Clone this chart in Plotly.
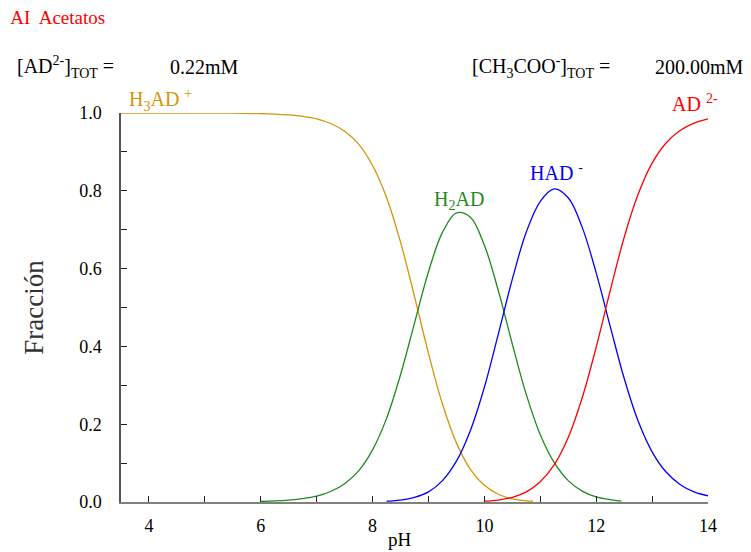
import plotly.graph_objects as go

# pH grid and species fractions
ph_h3 = [3.5, 4, 4.5, 5, 5.5, 6, 6.25, 6.5, 6.75, 7, 7.25, 7.5, 7.75, 8, 8.25, 8.5, 8.75, 9, 9.25,
         9.5, 9.75, 10, 10.25, 10.5, 10.75, 10.87]
h3ad = [1.0, 1.0, 0.9999, 0.9998, 0.9995, 0.9985, 0.9973, 0.995, 0.9914, 0.985, 0.973, 0.953, 0.920,
        0.865, 0.783, 0.668, 0.528, 0.382, 0.252, 0.152, 0.084, 0.043, 0.020, 0.008, 0.003, 0.002]

ph_h2 = [6, 6.25, 6.5, 6.75, 7, 7.25, 7.5, 7.75, 8, 8.25, 8.5, 8.75, 9, 9.25, 9.5, 9.75, 10, 10.25,
         10.5, 10.75, 11, 11.25, 11.5, 11.75, 12, 12.25, 12.45]
h2ad = [0.0015, 0.0027, 0.005, 0.0086, 0.015, 0.027, 0.047, 0.080, 0.134, 0.215, 0.327, 0.460, 0.592,
        0.693, 0.743, 0.732, 0.660, 0.543, 0.406, 0.276, 0.173, 0.101, 0.055, 0.028, 0.013, 0.006, 0.002]

ph_h1 = [8.25, 8.5, 8.75, 9, 9.25, 9.5, 9.75, 10, 10.25, 10.5, 10.75, 11, 11.25, 11.5, 11.75, 12,
         12.25, 12.5, 12.75, 13, 13.25, 13.5, 13.75, 14]
had = [0.002, 0.005, 0.012, 0.026, 0.055, 0.105, 0.184, 0.295, 0.432, 0.573, 0.694, 0.773, 0.805,
       0.782, 0.706, 0.589, 0.452, 0.318, 0.208, 0.129, 0.077, 0.045, 0.026, 0.016]

ph_ad = [10, 10.25, 10.5, 10.75, 11, 11.25, 11.5, 11.75, 12, 12.25, 12.5, 12.75, 13, 13.25, 13.5,
         13.75, 14]
ad = [0.002, 0.005, 0.012, 0.026, 0.052, 0.096, 0.166, 0.268, 0.398, 0.543, 0.680, 0.791, 0.871,
      0.923, 0.955, 0.974, 0.985]

x_ticks = list(range(4, 15))
x_labels = [str(v) if v % 2 == 0 else "" for v in x_ticks]
y_ticks = [i / 10 for i in range(11)]
y_labels = [f"{v:.1f}" if i % 2 == 0 else "" for i, v in enumerate(y_ticks)]

gold = "#d4960a"
green = "#1f8a1f"
blue = "#0000ff"
red = "#ff0000"
serif = "Liberation Serif"

fig = go.Figure()
for xs, ys, c in [(ph_h3, h3ad, gold), (ph_h2, h2ad, green), (ph_h1, had, blue), (ph_ad, ad, red)]:
    fig.add_trace(go.Scatter(x=xs, y=ys, mode="lines", line=dict(color=c, width=1.3, shape="spline"),
                             showlegend=False, hoverinfo="skip"))

# page offset: the html body adds an 8px margin, plot area spans x 121..708, y 113..502 on the page
def px_x(px):
    return (px - 121) / 587

def px_y(py):
    return (502 - py) / 389

labels = [
    (160, 100, "H<sub>3</sub>AD <sup>+</sup>", gold),
    (459, 200, "H<sub>2</sub>AD", green),
    (556, 172, "HAD <sup>-</sup>", blue),
    (695, 103, "AD <sup>2-</sup>", red),
]
for px, py, t, c in labels:
    fig.add_annotation(xref="paper", yref="paper", x=px_x(px), y=px_y(py), text=t, xanchor="center",
                       showarrow=False, font=dict(family=serif, size=20, color=c), yanchor="middle")

# concentration notes, split so their pieces sit where the reference puts them
notes = [
    (15, "left", "[AD<sup>2-</sup>]<sub>TOT</sub> ="),
    (241, "right", "0.22mM"),
    (470, "left", "[CH<sub>3</sub>COO<sup>-</sup>]<sub>TOT</sub> ="),
    (746, "right", "200.00mM"),
]
for px, anchor, t in notes:
    fig.add_annotation(xref="paper", yref="paper", x=px_x(px), y=px_y(67), xanchor=anchor,
                       yanchor="middle", text=t, showarrow=False,
                       font=dict(family=serif, size=20, color="black"))

fig.add_annotation(xref="paper", yref="paper", x=px_x(400), y=px_y(539), xanchor="center",
                   yanchor="middle", text="pH", showarrow=False,
                   font=dict(family=serif, size=19, color="black"))

fig.update_layout(
    width=743, height=544,
    margin=dict(l=113, r=43, t=105, b=50, autoexpand=False),
    paper_bgcolor="white", plot_bgcolor="white",
    title=dict(text="AI  Acetatos", x=0.003, xref="container", xanchor="left", y=0.982, yanchor="middle",
               font=dict(family=serif, size=19, color=red)),
    font=dict(family=serif, size=18, color="black"),
    xaxis=dict(range=[3.5, 14], tickmode="array", tickvals=x_ticks, ticktext=x_labels,
               ticks="inside", ticklen=6, tickcolor="#222", showgrid=False, zeroline=False,
               showline=True, linecolor="#808080", linewidth=2, ticklabelstandoff=6, automargin=False),
    yaxis=dict(range=[0, 1], tickmode="array", tickvals=y_ticks, ticktext=y_labels,
               ticks="inside", ticklen=6, tickcolor="#222", showgrid=False, zeroline=False,
               showline=True, linecolor="#555", linewidth=1.5, ticklabelstandoff=14, automargin=False,
               title=dict(text="Fracción", font=dict(family=serif, size=27, color="#333"), standoff=28)),
)

fig.write_html("out.html")
